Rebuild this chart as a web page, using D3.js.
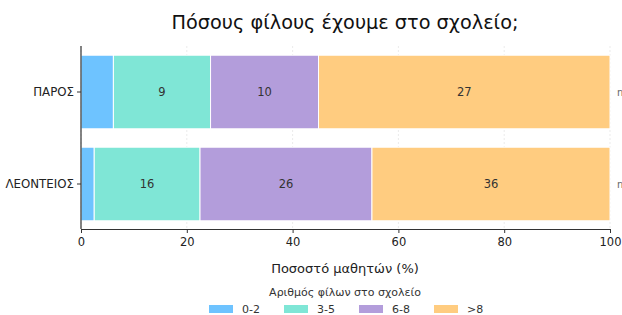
<!DOCTYPE html>
<html>
<head>
<meta charset="utf-8">
<script src="https://cdn.jsdelivr.net/npm/d3@7"></script>
<style>
body { margin: 0; background: #fff; }
text { font-family: "DejaVu Sans", sans-serif; }
</style>
</head>
<body>
<div id="chart"></div>
<script>
// data
var schools = ["ΠΑΡΟΣ", "ΛΕΟΝΤΕΙΟΣ"];
var groups = ["0-2", "3-5", "6-8", ">8"];
var counts0_2 = [3, 2];
var counts3_5 = [9, 16];
var counts6_8 = [10, 26];
var countsOver8 = [27, 36];
var xTicks = [0, 20, 40, 60, 80, 100];
var colors = ["#6ec3ff", "#7fe6d6", "#b39ddb", "#ffcc80"];

var width = 622, height = 315;
var margin = {top: 46, right: 12, bottom: 86, left: 81};

var svg = d3.select("#chart").append("svg")
    .attr("width", width)
    .attr("height", height);

// build stacked percentages
var rows = schools.map(function(s, i){
    var vals = [counts0_2[i], counts3_5[i], counts6_8[i], countsOver8[i]];
    var total = d3.sum(vals);
    var start = 0;
    var segs = vals.map(function(v, j){
        var p = v / total * 100;
        var seg = {school: s, group: groups[j], count: v, x0: start, x1: start + p};
        start += p;
        return seg;
    });
    return {school: s, total: total, segs: segs};
});

var x = d3.scaleLinear()
    .domain([0, 100])
    .range([margin.left, 610]);

var y = d3.scaleBand()
    .domain(schools)
    .range([margin.top, 230])
    .paddingInner(0.2)
    .paddingOuter(0.1);

var color = d3.scaleOrdinal().domain(groups).range(colors);

// faint grid
svg.append("g")
    .selectAll("line")
    .data(xTicks)
    .enter().append("line")
    .attr("x1", function(d){ return x(d); })
    .attr("x2", function(d){ return x(d); })
    .attr("y1", margin.top)
    .attr("y2", 229)
    .attr("stroke", "#e6e6e6")
    .attr("stroke-width", 0.8)
    .attr("stroke-dasharray", "2,2");

// bars
var allSegs = [];
rows.forEach(function(r){ allSegs = allSegs.concat(r.segs); });

svg.append("g")
    .selectAll("rect")
    .data(allSegs)
    .enter().append("rect")
    .attr("x", function(d){ return x(d.x0); })
    .attr("y", function(d){ return y(d.school); })
    .attr("width", function(d){ return x(d.x1) - x(d.x0); })
    .attr("height", y.bandwidth())
    .attr("fill", function(d){ return color(d.group); })
    .attr("stroke", "#ffffff")
    .attr("stroke-width", 1);

// labels inside segments (small ones skipped)
svg.append("g")
    .selectAll("text")
    .data(allSegs.filter(function(d){ return d.x1 - d.x0 > 8; }))
    .enter().append("text")
    .attr("x", function(d){ return x((d.x0 + d.x1) / 2); })
    .attr("y", function(d){ return y(d.school) + y.bandwidth() / 2; })
    .attr("text-anchor", "middle")
    .attr("dominant-baseline", "central")
    .attr("font-size", "11.5px")
    .attr("fill", "#333")
    .text(function(d){ return d.count; });

// n labels at right (clipped by the window, as in the original)
svg.append("g")
    .selectAll("text")
    .data(rows)
    .enter().append("text")
    .attr("x", x(100) + 7)
    .attr("y", function(d){ return y(d.school) + y.bandwidth() / 2; })
    .attr("dominant-baseline", "central")
    .attr("font-size", "10px")
    .attr("fill", "#666")
    .text(function(d){ return "n=" + d.total; });

// axes
var xAxis = svg.append("g")
    .attr("transform", "translate(0,229)")
    .call(d3.axisBottom(x).tickValues(xTicks).tickSize(4).tickSizeOuter(0));
xAxis.select(".domain").attr("stroke", "#333").attr("stroke-width", 1.2);
xAxis.selectAll(".tick line").attr("stroke", "#333");
xAxis.selectAll(".tick text").attr("font-size", "11.5px").attr("fill", "#222").attr("dy", "0.85em");

var yAxis = svg.append("g")
    .attr("transform", "translate(" + margin.left + ",0)")
    .call(d3.axisLeft(y).tickSize(4).tickSizeOuter(0));
yAxis.select(".domain").attr("stroke", "#333").attr("stroke-width", 1.2)
    .attr("d", "M0," + margin.top + "V229");
yAxis.selectAll(".tick line").attr("stroke", "#333");
yAxis.selectAll(".tick text").attr("font-size", "11.8px").attr("fill", "#222");

// title
svg.append("text")
    .attr("x", 345)
    .attr("y", 29)
    .attr("text-anchor", "middle")
    .attr("font-size", "19.3px")
    .attr("fill", "#111")
    .text("Πόσους φίλους έχουμε στο σχολείο;");

// x label
svg.append("text")
    .attr("x", 345)
    .attr("y", 273)
    .attr("text-anchor", "middle")
    .attr("font-size", "13px")
    .attr("fill", "#222")
    .text("Ποσοστό μαθητών (%)");

// legend
svg.append("text")
    .attr("x", 345)
    .attr("y", 296)
    .attr("text-anchor", "middle")
    .attr("font-size", "11px")
    .attr("fill", "#333")
    .text("Αριθμός φίλων στο σχολείο");

var legendX = [209, 284, 359, 434];
var leg = svg.append("g")
    .selectAll("g")
    .data(groups)
    .enter().append("g")
    .attr("transform", function(d, i){ return "translate(" + legendX[i] + ",305)"; });
leg.append("rect")
    .attr("width", 24)
    .attr("height", 8)
    .attr("fill", function(d){ return color(d); });
leg.append("text")
    .attr("x", 33)
    .attr("y", 4)
    .attr("dominant-baseline", "central")
    .attr("font-size", "11px")
    .attr("fill", "#333")
    .text(function(d){ return d; });
</script>
</body>
</html>
